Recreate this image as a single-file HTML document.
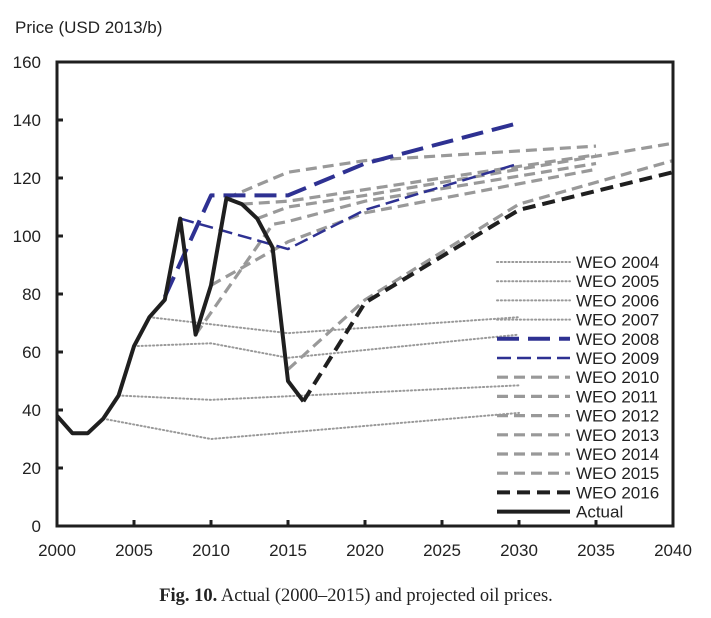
<!DOCTYPE html>
<html><head><meta charset="utf-8"><style>
body{margin:0;background:#fff;}
svg text{font-family:"Liberation Sans",sans-serif;fill:#222;}
</style></head><body>
<svg width="711" height="613" viewBox="0 0 711 613">
<g id="plot"></g>
<text x="15" y="33" font-size="17">Price (USD 2013/b)</text>
<text x="356" y="601" text-anchor="middle" font-size="18.5" style="font-family:'Liberation Serif',serif"><tspan font-weight="bold">Fig. 10.</tspan> Actual (2000–2015) and projected oil prices.</text>
</svg>
<script>
const xTicks=[2000,2005,2010,2015,2020,2025,2030,2035,2040];
const yTicks=[0,20,40,60,80,100,120,140,160];
const seriesNames=["WEO 2004","WEO 2005","WEO 2006","WEO 2007","WEO 2008","WEO 2009","WEO 2010","WEO 2011","WEO 2012","WEO 2013","WEO 2014","WEO 2015","WEO 2016","Actual"];
const weo2004=[[2003,37],[2010,30],[2030,39]];
const weo2005=[[2004,45],[2010,43.5],[2030,48.5]];
const weo2006=[[2005,62],[2010,63],[2015,58],[2030,66]];
const weo2007=[[2006,72],[2015,66.5],[2030,72]];
const weo2008=[[2007,79],[2010,114],[2015,114],[2020,125],[2030,139]];
const weo2009=[[2008,106],[2015,95.5],[2020,109],[2030,125]];
const weo2010=[[2009,66],[2014,104],[2015,105],[2020,112],[2035,125]];
const weo2011=[[2010,83],[2015,98],[2020,108],[2035,123]];
const weo2012=[[2011,113],[2015,122],[2020,126],[2035,131]];
const weo2013=[[2012,111],[2015,112],[2020,116],[2035,128]];
const weo2014=[[2013,106],[2015,110],[2020,114],[2040,132]];
const weo2015=[[2015,54],[2020,78],[2030,111],[2040,126]];
const weo2016=[[2016,43],[2020,77],[2030,109],[2040,122]];
const actual=[[2000,38],[2001,32],[2002,32],[2003,37],[2004,45],[2005,62],[2006,72],[2007,78],[2008,106],[2009,66],[2010,83],[2011,113],[2012,111],[2013,106],[2014,96],[2015,50],[2016,43]];

const L=57,R=673,T=62,B=526;
const X=v=>L+(v-2000)*(R-L)/40;
const Y=v=>B-v*(B-T)/160;
const NS="http://www.w3.org/2000/svg";
const g=document.getElementById('plot');
function mk(t,a){const e=document.createElementNS(NS,t);for(const k in a)e.setAttribute(k,a[k]);return e;}
const dot={stroke:"#999","stroke-width":2,"stroke-dasharray":"1.2 2.6","stroke-linecap":"round"};
const gray={stroke:"#999","stroke-width":3.2,"stroke-dasharray":"11 6"};
const styles=[dot,dot,dot,dot,
 {stroke:"#2e3192","stroke-width":4,"stroke-dasharray":"22 9"},
 {stroke:"#2e3192","stroke-width":2.5,"stroke-dasharray":"14 6"},
 gray,gray,gray,gray,gray,gray,
 {stroke:"#1f1f1f","stroke-width":4,"stroke-dasharray":"13 7"},
 {stroke:"#1f1f1f","stroke-width":4}];
const all=[weo2004,weo2005,weo2006,weo2007,weo2010,weo2011,weo2012,weo2013,weo2014,weo2015,weo2008,weo2009,weo2016,actual];
const idx=[0,1,2,3,6,7,8,9,10,11,4,5,12,13];
all.forEach((d,i)=>{
 const s=styles[idx[i]];
 const p=mk("polyline",Object.assign({points:d.map(q=>X(q[0])+","+Y(q[1])).join(" "),fill:"none","stroke-linejoin":"round"},s));
 
 
 g.appendChild(p);
});
const f=mk("path",{d:`M${L},${T}H${R}V${B}H${L}Z`,fill:"none",stroke:"#1f1f1f","stroke-width":3});


g.appendChild(f);
xTicks.forEach(v=>{
 const t=mk("line",{x1:X(v),x2:X(v),y1:B,y2:B-6,stroke:"#1f1f1f","stroke-width":3});
 
 
 g.appendChild(t);
 const tx=mk("text",{x:X(v),y:B+30,"text-anchor":"middle","font-size":17});
 tx.textContent=v;
 
 
 g.appendChild(tx);
});
yTicks.forEach(v=>{
 const t=mk("line",{x1:L,x2:L+6,y1:Y(v),y2:Y(v),stroke:"#1f1f1f","stroke-width":3});
 
 
 g.appendChild(t);
 const tx=mk("text",{x:41,y:Y(v)+6,"text-anchor":"end","font-size":17});
 tx.textContent=v;
 
 
 g.appendChild(tx);
});
seriesNames.forEach((n,i)=>{
 const y=262+i*19.2;
 const s=styles[i];
 const ln=mk("line",Object.assign({x1:497,x2:570,y1:y,y2:y},s));
 
 
 g.appendChild(ln);
 const tx=mk("text",{x:576,y:y+6,"font-size":17});
 tx.textContent=n;
 
 
 g.appendChild(tx);
});
</script>
</body></html>
